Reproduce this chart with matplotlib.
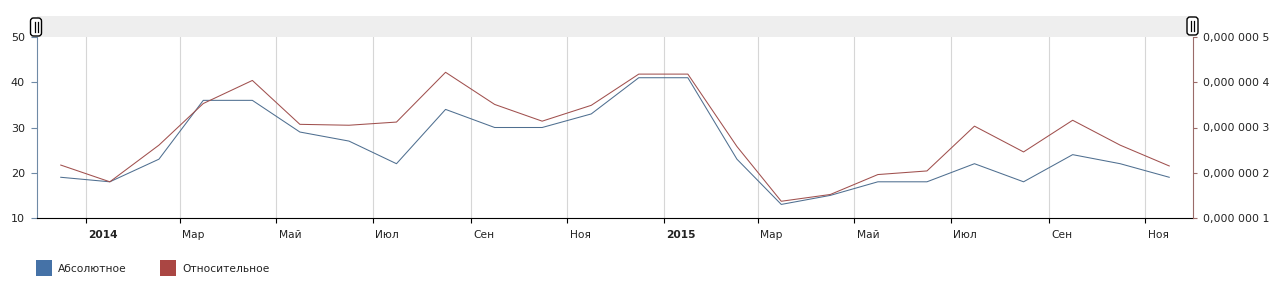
import matplotlib
matplotlib.use("Agg")
import matplotlib.pyplot as plt
from matplotlib.patches import Rectangle, FancyBboxPatch
from matplotlib.lines import Line2D
from matplotlib.transforms import ScaledTranslation
from matplotlib.ticker import FuncFormatter
import pandas as pd

W, H = 1286, 293

# === DATA ===
months = pd.date_range("2013-12-01", periods=24, freq="MS") + pd.Timedelta(days=15)
abs_values = [19, 18, 23, 36, 36, 29, 27, 22, 34, 30, 30, 33,
              41, 41, 23, 13, 15, 18, 18, 22, 18, 24, 22, 19]
# relative values, in units of 1e-7
rel_values = [2.17, 1.80, 2.61, 3.53, 4.04, 3.07, 3.05, 3.12, 4.22, 3.51, 3.14, 3.49,
              4.18, 4.18, 2.58, 1.37, 1.52, 1.96, 2.04, 3.03, 2.46, 3.16, 2.61, 2.15]
tick_dates = pd.date_range("2014-01-01", "2015-11-01", freq="2MS")
tick_labels = ["2014", "Мар", "Май", "Июл", "Сен", "Ноя",
               "2015", "Мар", "Май", "Июл", "Сен", "Ноя"]
left_ticks = [10, 20, 30, 40, 50]
right_ticks = [1, 2, 3, 4, 5]
series_names = ["Абсолютное", "Относительное"]
# =================

BLUE = "#4572A7"
RED = "#AA4643"
BLUE_LINE = "#4f6f90"
RED_LINE = "#a0504e"
TXT = "#222222"

plt.rcParams["font.family"] = ["DejaVu Sans"]


def fmt_small(v, pos):
    s = f"{v:.7f}"
    whole, frac = s.split(".")
    groups = [frac[i:i + 3] for i in range(0, len(frac), 3)]
    return whole + "," + " ".join(groups)


def inch(x, y):
    # pixel coords (top-left origin) -> inches from bottom-left
    return x / 100, (H - y) / 100


fig = plt.figure(figsize=(W / 100, H / 100), dpi=100)
ax = fig.add_axes([37 / W, 1 - 218 / H, 1156 / W, 181 / H])
ax2 = ax.twinx()

ax.plot(months, abs_values, color=BLUE_LINE, lw=0.75)
ax2.plot(months, [v * 1e-7 for v in rel_values], color=RED_LINE, lw=0.75)

ax.set_xlim(pd.Timestamp("2013-12-01"), pd.Timestamp("2015-12-01"))
ax.set_ylim(10, 50)
ax.set_yticks(left_ticks)
ax2.set_ylim(1e-7, 5e-7)
ax2.set_yticks([t * 1e-7 for t in right_ticks])
ax2.yaxis.set_major_formatter(FuncFormatter(fmt_small))

# spines
for s in ["top", "right"]:
    ax.spines[s].set_visible(False)
for s in ["top", "left", "bottom"]:
    ax2.spines[s].set_visible(False)
ax.spines["left"].set_color("#6f8aa6")
ax.spines["bottom"].set_color("black")
ax2.spines["right"].set_color("#9a6b69")

ax.grid(axis="x", color="#d6d6d6", lw=0.8)
ax.set_axisbelow(True)

ax.tick_params(axis="y", length=4.3, width=0.8, color="#6f8aa6", pad=4.3,
               labelsize=8, labelcolor=TXT)
ax2.tick_params(axis="y", length=3, width=0.8, color="#9a6b69", pad=4.3,
                labelsize=7.8, labelcolor=TXT)
ax.tick_params(axis="x", length=3.5, width=0.8, color="black", pad=5,
               labelsize=7.7, labelcolor=TXT)

ax.set_xticks(tick_dates)
ax.set_xticklabels(tick_labels, ha="left")
offset = ScaledTranslation(2.5 / 100, 0, fig.dpi_scale_trans)
for lab, txt in zip(ax.get_xticklabels(), tick_labels):
    lab.set_transform(lab.get_transform() + offset)
    if txt.isdigit():
        lab.set_fontweight("bold")

# scrollbar band on top
fig.add_artist(Rectangle((37 / W, 1 - 37 / H), 1156 / W, 21 / H,
                         transform=fig.transFigure, fc="#eeeeee", ec="none"))
for cx, cy in [(36, 27), (1192.5, 26)]:
    x0, y0 = inch(cx - 5.5, cy + 9)
    fig.add_artist(FancyBboxPatch((x0, y0), 0.11, 0.18,
                                  boxstyle="round,pad=0,rounding_size=0.03",
                                  transform=fig.dpi_scale_trans,
                                  fc="white", ec="black", lw=1))
    for dx in (-1.5, 1.5):
        xa, ya = inch(cx + dx, cy + 5)
        xb, yb = inch(cx + dx, cy - 5)
        fig.add_artist(Line2D([xa, xb], [ya, yb], transform=fig.dpi_scale_trans,
                              color="black", lw=0.9))

# legend
for (sx, tx), name, col in zip([(36, 58), (160, 182)], series_names, [BLUE, RED]):
    x0, y0 = inch(sx, 276)
    fig.add_artist(Rectangle((x0, y0), 0.16, 0.16, transform=fig.dpi_scale_trans,
                             fc=col, ec="none"))
    xt, yt = inch(tx, 268.5)
    fig.text(xt, yt, name, transform=fig.dpi_scale_trans, fontsize=7.7,
             color=TXT, va="center", ha="left")

fig.savefig("out.png", dpi=100)
